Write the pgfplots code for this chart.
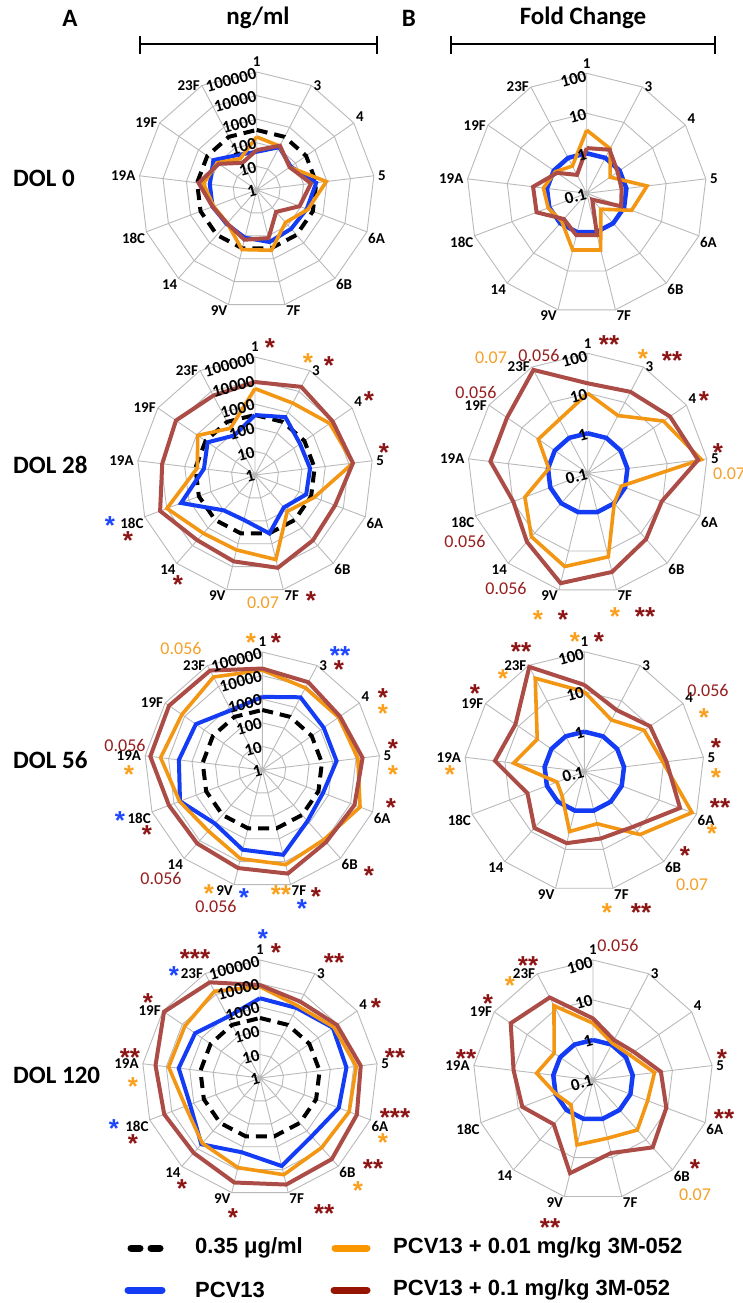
\documentclass[border=0pt]{standalone}
\usepackage{fontspec}
\setmainfont{Liberation Sans}
\newfontfamily\carl{Carlito}
\usepackage{pgfplots}
\pgfplotsset{compat=1.18}
\usepgfplotslibrary{polar}
\usepackage{pgfplotstable}

\definecolor{gridc}{RGB}{185,185,185}
\definecolor{cblue}{RGB}{20,60,245}
\definecolor{corange}{RGB}{242,150,20}
\definecolor{cred}{RGB}{172,76,70}
\definecolor{sred}{RGB}{140,20,20}
\definecolor{sorange}{RGB}{250,160,30}
\definecolor{sblue}{RGB}{30,70,255}
\definecolor{pred}{RGB}{150,30,30}
\definecolor{porange}{RGB}{245,160,40}
\definecolor{lred}{RGB}{150,20,0}
\definecolor{lorange}{RGB}{250,150,0}

% radius = log10(ng/ml) ; columns: blue, orange, red, dash (0.35 ug/ml)
\pgfplotstableread{
ang     blue orange red  dash
90      1.62 2.25 1.69 2.544
62.308  2.05 2.10 2.12 2.544
34.615  1.75 1.70 1.70 2.544
6.923   2.54 2.97 2.32 2.544
339.231 2.27 2.32 1.94 2.544
311.538 2.20 1.84 1.24 2.544
283.846 2.27 2.63 2.10 2.544
256.154 2.08 2.60 2.17 2.544
228.462 1.92 1.88 1.89 2.544
200.769 2.00 1.95 2.00 2.544
173.077 2.00 2.27 2.48 2.544
145.385 2.23 2.03 1.95 2.544
117.692 1.68 1.50 1.30 2.544
90      1.62 2.25 1.69 2.544
}\tAa
\pgfplotstableread{
ang     blue orange red  dash
90      2.54 3.66 3.94 2.544
62.308  2.77 3.44 4.22 2.544
34.615  2.32 3.85 4.00 2.544
6.923   2.35 4.18 4.18 2.544
339.231 2.32 2.68 3.63 2.544
311.538 1.84 2.06 3.70 2.544
283.846 2.55 3.69 4.05 2.544
256.154 1.96 3.27 3.77 2.544
228.462 2.00 3.30 3.69 2.544
200.769 3.35 3.99 4.30 2.544
173.077 2.18 2.46 3.96 2.544
145.385 2.44 2.95 4.07 2.544
117.692 1.89 2.24 3.80 2.544
90      2.54 3.66 3.94 2.544
}\tAb
\pgfplotstableread{
ang     blue orange red  dash
90      3.10 4.23 4.30 2.544
62.308  3.48 3.93 4.20 2.544
34.615  3.16 3.93 4.00 2.544
6.923   3.17 4.08 4.28 2.544
339.231 2.75 4.43 4.18 2.544
311.538 2.89 3.94 4.08 2.544
283.846 3.70 4.13 4.52 2.544
256.154 3.48 3.87 4.28 2.544
228.462 3.03 3.45 4.16 2.544
200.769 3.73 3.75 4.23 2.544
173.077 3.56 4.34 4.78 2.544
145.385 3.42 4.14 4.80 2.544
117.692 2.86 4.45 4.76 2.544
90      3.10 4.23 4.30 2.544
}\tAc
\pgfplotstableread{
ang     blue orange red  dash
90      3.38 3.87 3.94 2.544
62.308  3.35 3.45 3.66 2.544
34.615  3.75 3.80 3.96 2.544
6.923   3.69 4.11 4.30 2.544
339.231 3.57 4.04 4.39 2.544
311.538 3.30 3.94 4.59 2.544
283.846 3.84 4.22 4.65 2.544
256.154 3.24 3.91 4.56 2.544
228.462 3.75 3.69 4.24 2.544
200.769 3.17 3.38 4.34 2.544
173.077 3.47 3.90 4.46 2.544
145.385 3.34 3.87 4.94 2.544
117.692 2.93 4.15 4.58 2.544
90      3.38 3.87 3.94 2.544
}\tAd
% fold change, log10(fold): blue, orange, red
\pgfplotstableread{
ang     blue orange red
90      0 0.58 0.13
62.308  0 0.26 0.23
34.615  0 -0.29 -0.06
6.923   0 0.52 -0.12
339.231 0 0.20 -0.08
311.538 0 -0.47 -0.79
283.846 0 0.46 0.08
256.154 0 0.46 0.08
228.462 0 -0.06 -0.14
200.769 0 0.03 0.34
173.077 0 0.09 0.35
145.385 0 -0.05 -0.10
117.692 0 -0.23 -0.48
90      0 0.58 0.13
}\tBa
\pgfplotstableread{
ang     blue orange red
90      0 1.00 1.25
62.308  0 0.63 1.30
34.615  0 1.30 1.50
6.923   0 1.86 1.78
339.231 0 -0.10 0.98
311.538 0 0.00 1.20
283.846 0 1.15 1.54
256.154 0 1.40 1.83
228.462 0 1.12 1.29
200.769 0 0.68 0.99
173.077 0 -0.02 1.45
145.385 0 0.50 1.45
117.692 0 0.52 1.92
90      0 1.00 1.25
}\tBb
\pgfplotstableread{
ang     blue orange red
90      0 1.00 1.17
62.308  0 0.46 0.74
34.615  0 0.82 1.00
6.923   0 0.98 1.07
339.231 0 1.88 1.56
311.538 0 1.10 0.84
283.846 0 0.34 0.72
256.154 0 0.54 0.84
228.462 0 -0.17 0.88
200.769 0 -0.27 0.52
173.077 0 0.78 1.25
145.385 0 0.43 1.09
117.692 0 1.64 1.96
90      0 1.00 1.17
}\tBc
\pgfplotstableread{
ang     blue orange red
90      0 0.42 0.54
62.308  0 0.04 0.13
34.615  0 0.11 0.24
6.923   0 0.55 0.71
339.231 0 0.46 0.96
311.538 0 0.67 1.25
283.846 0 0.50 0.88
256.154 0 0.67 1.40
228.462 0 -0.17 0.48
200.769 0 -0.01 0.89
173.077 0 0.42 1.00
145.385 0 0.18 1.50
117.692 0 1.10 1.33
90      0 0.42 0.54
}\tBd

\pgfplotsset{
  radar/.style={
    scale only axis, anchor=center, clip=false,
    xmin=0, xmax=360, ymin=0,
    xtick={90,62.308,34.615,6.923,339.231,311.538,283.846,256.154,228.462,200.769,173.077,145.385,117.692},
    xticklabels={},
    xmajorgrids, ymajorgrids=false,
    major grid style={draw=gridc, line width=0.9pt},
    ytick=\empty, axis line style={draw=none}, xtick style={draw=none},
  },
  ringline/.style={draw=gridc, line width=0.9pt, forget plot},
  dashline/.style={black, line width=4pt, dash pattern=on 11pt off 7pt},
  bline/.style={cblue, line width=4pt, line join=miter},
  oline/.style={corange, line width=3.6pt, line join=miter},
  rline/.style={cred, line width=4pt, line join=miter},
}
\tikzset{
  rlab/.style={font=\carl\bfseries\fontsize{17}{17}\selectfont, rotate=15, anchor=east, inner sep=0.5pt},
  clab/.style={font=\carl\bfseries\fontsize{15}{15}\selectfont, inner sep=1pt},
}

\newcommand{\catlabels}[1]{%
\node[clab,anchor=south,yshift=4pt] at (axis cs:90,#1) {1};
\node[clab,anchor=west,xshift=1pt] at (axis cs:62.308,#1) {3};
\node[clab,anchor=south west,xshift=1pt] at (axis cs:34.615,#1) {4};
\node[clab,anchor=west,xshift=3pt] at (axis cs:6.923,#1) {5};
\node[clab,anchor=north west] at (axis cs:339.231,#1) {6A};
\node[clab,anchor=north west] at (axis cs:311.538,#1) {6B};
\node[clab,anchor=north west] at (axis cs:283.846,#1) {7F};
\node[clab,anchor=north east] at (axis cs:256.154,#1) {9V};
\node[clab,anchor=north east] at (axis cs:228.462,#1) {14};
\node[clab,anchor=north east] at (axis cs:200.769,#1) {18C};
\node[clab,anchor=east,xshift=-3pt] at (axis cs:173.077,#1) {19A};
\node[clab,anchor=east,xshift=-1pt] at (axis cs:145.385,#1) {19F};
\node[clab,anchor=east,xshift=-1pt] at (axis cs:117.692,#1) {23F};}

\newcommand{\radarA}[3]{%
\begin{polaraxis}[radar, ymax=5, width=236pt, height=236pt, at={(#1pt,-#2pt)}]
\pgfplotsinvokeforeach{1,...,5}{\addplot[ringline] table[x=ang,y expr=##1]{#3};}
\addplot[dashline] table[x=ang,y=dash]{#3};
\addplot[bline] table[x=ang,y=blue]{#3};
\addplot[oline] table[x=ang,y=orange]{#3};
\addplot[rline] table[x=ang,y=red]{#3};
\node[rlab] at (axis cs:90,0) {1};
\node[rlab] at (axis cs:90,1) {10};
\node[rlab] at (axis cs:90,2) {100};
\node[rlab] at (axis cs:90,3) {1000};
\node[rlab] at (axis cs:90,4) {10000};
\node[rlab] at (axis cs:90,4.95) {100000};
\catlabels{5}
\end{polaraxis}}

\newcommand{\radarB}[3]{%
\begin{polaraxis}[radar, ymax=3, width=240pt, height=240pt, at={(#1pt,-#2pt)}]
\pgfplotsinvokeforeach{1,...,3}{\addplot[ringline] table[x=ang,y expr=##1]{#3};}
\addplot[bline, line width=4.5pt] table[x=ang,y expr=\thisrow{blue}+1]{#3};
\addplot[oline] table[x=ang,y expr=\thisrow{orange}+1]{#3};
\addplot[rline] table[x=ang,y expr=\thisrow{red}+1]{#3};
\node[rlab] at (axis cs:90,0) {0.1};
\node[rlab] at (axis cs:90,1) {1};
\node[rlab] at (axis cs:90,2) {10};
\node[rlab] at (axis cs:90,2.95) {100};
\catlabels{3}
\end{polaraxis}}

\newcommand{\st}[4]{\node[text=#3, inner sep=0pt, font=\bfseries\fontsize{26}{26}\selectfont] at (#1pt,{-#2pt-6pt}) {#4};}
\newcommand{\pv}[4]{\node[text=#3, inner sep=0pt, font=\carl\fontsize{18}{18}\selectfont] at (#1pt,-#2pt) {#4};}

\begin{document}
\begin{tikzpicture}
\path[use as bounding box] (0,0) rectangle (742pt,-1303pt);

% headers
\node[font=\carl\bfseries\fontsize{25}{25}\selectfont] at (70pt,-18pt) {A};
\node[font=\carl\bfseries\fontsize{25}{25}\selectfont] at (409pt,-18pt) {B};
\node[font=\carl\bfseries\fontsize{25}{25}\selectfont] at (258pt,-18pt) {ng/ml};
\node[font=\carl\bfseries\fontsize{25}{25}\selectfont] at (583pt,-18pt) {Fold Change};
\draw[line width=1.3pt] (140pt,-36pt) -- (140pt,-54pt) (140pt,-44pt) -- (377pt,-44pt) (377pt,-36pt) -- (377pt,-54pt);
\draw[line width=1.3pt] (451pt,-36pt) -- (451pt,-54pt) (451pt,-44pt) -- (715pt,-44pt) (715pt,-36pt) -- (715pt,-54pt);

% row labels
\foreach \lab/\yy in {DOL 0/178, DOL 28/465, DOL 56/760, DOL 120/1075}
  \node[anchor=west, inner sep=0pt, font=\carl\bfseries\fontsize{25}{25}\selectfont] at (13pt,-\yy pt) {\lab};

\radarA{256.7}{190}{\tAa}
\radarB{586.7}{193.3}{\tBa}
\radarA{255}{475}{\tAb}
\radarB{587.7}{473.3}{\tBb}
\radarA{262.3}{770}{\tAc}
\radarB{584.3}{771.7}{\tBc}
\radarA{260}{1078}{\tAd}
\radarB{593}{1080}{\tBd}

% annotations row 2 A
\st{270}{342}{sred}{*}
\st{308}{357}{sorange}{*}
\st{329}{360}{sred}{*}
\st{369}{395}{sred}{*}
\st{384}{447}{sred}{*}
\st{110}{520}{sblue}{*}
\st{128}{535}{sred}{*}
\st{178}{579}{sred}{*}
\pv{263}{603}{porange}{0.07}
\st{311}{595}{sred}{*}
% row 2 B
\st{609}{339}{sred}{**}
\st{643}{353}{sorange}{*}
\st{672}{355}{sred}{**}
\pv{491}{358}{porange}{0.07}
\pv{539}{355}{pred}{0.056}
\pv{476}{392}{pred}{0.056}
\st{704}{395}{sred}{*}
\st{718}{447}{sred}{*}
\node[anchor=west, text=porange, inner sep=0pt, font=\carl\fontsize{18}{18}\selectfont] at (713pt,-474pt) {0.07};
\pv{465}{541}{pred}{0.056}
\pv{506}{588}{pred}{0.056}
\st{538}{614}{sorange}{*}
\st{563}{614}{sred}{*}
\st{615}{611}{sorange}{*}
\st{645}{611}{sred}{**}
% row 3 A
\st{251}{637}{sorange}{*}
\st{276}{637}{sred}{*}
\pv{181}{648}{porange}{0.056}
\st{340}{650}{sblue}{**}
\st{339}{664}{sred}{*}
\st{383}{692}{sred}{*}
\st{383}{708}{sorange}{*}
\st{393}{743}{sred}{*}
\st{393}{769}{sorange}{*}
\st{391}{802}{sred}{*}
\st{369}{870}{sred}{*}
\pv{125}{745}{pred}{0.056}
\st{129}{769}{sorange}{*}
\st{120}{815}{sblue}{*}
\st{147}{829}{sred}{*}
\pv{161}{878}{pred}{0.056}
\st{209}{888}{sorange}{*}
\st{244}{892}{sblue}{*}
\st{281}{889}{sorange}{**}
\st{316}{891}{sred}{*}
\pv{216}{906}{pred}{0.056}
\st{302}{903}{sblue}{*}
% row 3 B
\st{575}{636}{sorange}{*}
\st{599}{636}{sred}{*}
\st{521}{646}{sred}{**}
\st{503}{673}{sorange}{*}
\st{475}{688}{sred}{*}
\pv{708}{690}{pred}{0.056}
\st{704}{712}{sorange}{*}
\st{716}{742}{sred}{*}
\st{716}{772}{sorange}{*}
\st{720}{802}{sred}{**}
\st{712}{828}{sorange}{*}
\st{685}{850}{sred}{*}
\pv{692}{885}{porange}{0.07}
\st{450}{769}{sorange}{*}
\st{607}{907}{sorange}{*}
\st{641}{907}{sred}{**}
% row 4 A
\st{263}{933}{sblue}{*}
\st{276}{947}{sred}{*}
\st{334}{957}{sred}{**}
\st{376}{1002}{sred}{*}
\st{395}{1052}{sred}{**}
\st{395}{1112}{sred}{***}
\st{383}{1137}{sorange}{*}
\st{373}{1163}{sred}{**}
\st{358}{1185}{sorange}{*}
\st{195}{953}{sred}{***}
\st{174}{970}{sblue}{*}
\st{148}{997}{sred}{*}
\st{130}{1052}{sred}{**}
\st{133}{1081}{sorange}{*}
\st{114}{1123}{sblue}{*}
\st{133}{1138}{sred}{*}
\st{182}{1183}{sred}{*}
\st{233}{1212}{sred}{*}
\st{324}{1208}{sred}{**}
% row 4 B
\pv{618}{945}{pred}{0.056}
\st{528}{960}{sred}{**}
\st{510}{980}{sorange}{*}
\st{488}{998}{sred}{*}
\st{466}{1053}{sred}{**}
\st{722}{1053}{sred}{*}
\st{724}{1113}{sred}{**}
\st{695}{1163}{sred}{*}
\pv{695}{1195}{porange}{0.07}
\st{550}{1222}{sred}{**}

% legend
\draw[black, line width=7pt, line cap=round] (131pt,-1248pt) -- (140pt,-1248pt) (151pt,-1248pt) -- (160pt,-1248pt);
\draw[lorange, line width=7pt, line cap=round] (335pt,-1248pt) -- (367pt,-1248pt);
\draw[cblue, line width=7pt, line cap=round] (128pt,-1290pt) -- (162pt,-1290pt);
\draw[lred, line width=7pt, line cap=round] (334pt,-1290pt) -- (367pt,-1290pt);
\node[anchor=west, inner sep=0pt, font=\bfseries\fontsize{22}{22}\selectfont] at (195pt,-1248pt) {0.35 μg/ml};
\node[anchor=west, inner sep=0pt, font=\bfseries\fontsize{22}{22}\selectfont] at (393pt,-1248pt) {PCV13 + 0.01 mg/kg 3M-052};
\node[anchor=west, inner sep=0pt, font=\bfseries\fontsize{22}{22}\selectfont] at (195pt,-1290pt) {PCV13};
\node[anchor=west, inner sep=0pt, font=\bfseries\fontsize{22}{22}\selectfont] at (393pt,-1290pt) {PCV13 + 0.1 mg/kg 3M-052};
\end{tikzpicture}
\end{document}
